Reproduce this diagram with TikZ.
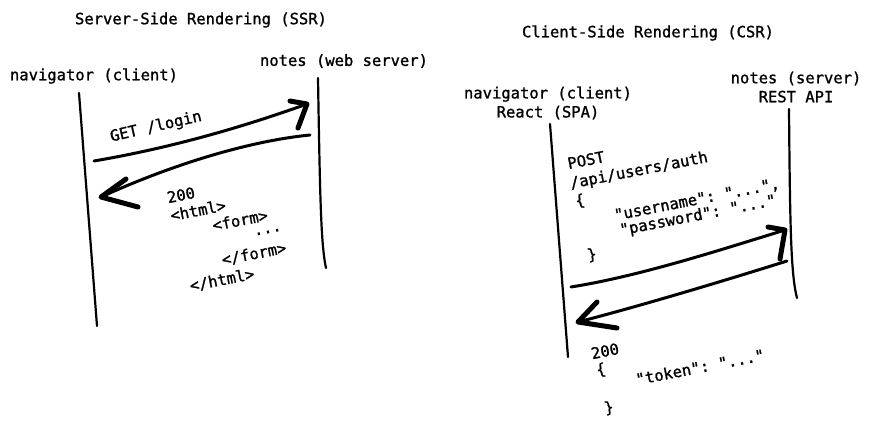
\documentclass[tikz,border=0pt]{standalone}
\usepackage{fontspec}
\setmonofont[FakeBold=1.2]{DejaVu Sans Mono}
\begin{document}
\begin{tikzpicture}[x=1pt, y=-1pt, line cap=round, line join=round,
  every node/.style={font=\ttfamily\fontsize{15.5}{19}\selectfont, inner sep=0pt},
  ttl/.style={align=center},
  txt/.style={rotate=11},
  life/.style={line width=2.2pt},
  msg/.style={line width=3pt},
  head/.style={line width=5pt}]
  \useasboundingbox (0,0) rectangle (872,428);
  % SSR
  \node[ttl] (ssrT) at (201,20) {Server-Side Rendering (SSR)};
  \node[ttl] (ssrC) at (94,76) {navigator (client)};
  \node[ttl] (ssrS) at (344,61) {notes (web server)};
  \coordinate (cA) at (79,93); \coordinate (cB) at (97,326);
  \coordinate (sA) at (318,78); \coordinate (sB) at (326,268);
  \draw[life] (cA) -- (cB);
  \draw[life] (sA) .. controls (320,200) and (321,245) .. (sB);
  \coordinate (g0) at (94,161); \coordinate (g1) at (307,104);
  \draw[msg] (g0) .. controls (170,148) and (240,128) .. (g1);
  \draw[head] (290,101) -- (g1) -- (298,128);
  \node[rotate=13] (get) at (156,127) {GET /login};
  \coordinate (r0) at (310,135); \coordinate (r1) at (101,197);
  \draw[msg] (r0) .. controls (240,142) and (160,170) .. (r1);
  \draw[head] (126,179) -- (r1) -- (138,207);
  \node[txt] (h1) at (181,195) {200};
  \node[txt] (h2) at (198,210) {<html>};
  \node[txt] (h3) at (240,220) {<form>};
  \node[txt] (h4) at (268,232) {...};
  \node[txt] (h5) at (254,254) {</form>};
  \node[txt] (h6) at (222,280) {</html>};
  % CSR
  \node[ttl] (csrT) at (648,33) {Client-Side Rendering (CSR)};
  \node[ttl] (csrC) at (548,103) {navigator (client)\\React (SPA)};
  \node[ttl] (csrS) at (796,87) {notes (server)\\REST API};
  \coordinate (cC) at (550,124); \coordinate (cD) at (568,357);
  \coordinate (sC) at (789,109); \coordinate (sD) at (797,298);
  \draw[life] (cC) -- (cD);
  \draw[life] (sC) .. controls (790,230) and (791,275) .. (sD);
  \coordinate (p0) at (571,287); \coordinate (p1) at (785,230);
  \draw[msg] (p0) .. controls (640,276) and (720,250) .. (p1);
  \draw[head] (768,227) -- (p1) -- (780,259);
  \coordinate (t0) at (787,261); \coordinate (t1) at (578,322);
  \draw[msg] (t0) .. controls (720,282) and (640,306) .. (t1);
  \draw[head] (597,302) -- (t1) -- (617,328);
  \node[txt] (q1) at (586,160) {POST};
  \node[txt] (q2) at (639,171) {/api/users/auth};
  \node[txt] (q3) at (580,201) {\{};
  \node[txt] (q4) at (697,200) {"username": "...",};
  \node[txt] (q5) at (698,216) {"password": "..."};
  \node[txt] (q6) at (592,255) {\}};
  \node[txt] (a1) at (605,351) {200};
  \node[txt] (a2) at (601,370) {\{};
  \node[txt] (a3) at (700,367) {"token": "..."};
  \node[txt] (a4) at (609,408) {\}};
\end{tikzpicture}
\end{document}
